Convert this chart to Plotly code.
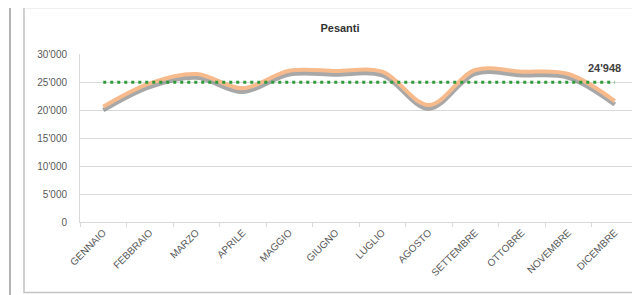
import plotly.graph_objects as go

# ---- data ----
months = ["GENNAIO", "FEBBRAIO", "MARZO", "APRILE", "MAGGIO", "GIUGNO",
          "LUGLIO", "AGOSTO", "SETTEMBRE", "OTTOBRE", "NOVEMBRE", "DICEMBRE"]
pesanti = [20600, 24770, 26430, 23870, 27020, 26960,
           26840, 20890, 27140, 26840, 26430, 21600]
media = 24948
title_text = "Pesanti"
y_ticks = [0, 5000, 10000, 15000, 20000, 25000, 30000]

# ---- geometry (pixels) ----
OFF = 8                      # default page body margin
W, H = 640 - OFF, 295 - OFF
ML, MR, MT, MB = 80 - OFF, 0, 54 - OFF, 73
PW = W - ML - MR
PH = H - MT - MB
YMAX = 30000
x_range = [-0.5, 11.543]
shadow_dy = 3.5 * YMAX / PH

def px_x(p):
    return (p - OFF - ML) / PW

def px_y(p):
    return (H - MB - (p - OFF)) / PH

FONT = "Liberation Sans, Arial, sans-serif"
TXT = "#595959"
GRID = "#d9d9d9"

fig = go.Figure()

# shadow (base axes, vertically offset range)
fig.add_trace(go.Scatter(
    x=months, y=pesanti, xaxis="x", yaxis="y", mode="lines",
    line=dict(color="rgba(110,110,110,0.6)", width=4.5, shape="spline"),
    hoverinfo="skip", showlegend=False))
# main series
fig.add_trace(go.Scatter(
    x=months, y=pesanti, xaxis="x", yaxis="y2", mode="lines",
    line=dict(color="#F7BA8C", width=4, shape="spline"),
    name=title_text, showlegend=False))
# average
fig.add_trace(go.Scatter(
    x=months, y=[media] * len(months), xaxis="x", yaxis="y2", mode="lines",
    line=dict(color="#2f9a3a", width=3, dash="3px,4px"),
    name="Media", showlegend=False))

fig.add_annotation(
    x=months[-1], y=media, xref="x", yref="y2",
    text="<b>" + f"{media:,}".replace(",", "'") + "</b>",
    showarrow=False, xanchor="center", yanchor="bottom",
    xshift=-10, yshift=6, font=dict(family=FONT, size=11, color="#404040"))

fig.update_layout(
    width=W, height=H,
    margin=dict(l=ML, r=MR, t=MT, b=MB),
    paper_bgcolor="white", plot_bgcolor="white",
    separators=".'",
    font=dict(family=FONT, size=10, color=TXT),
    title=dict(text="<b>" + title_text + "</b>", x=(340 - OFF) / W, xref="container",
               xanchor="center", y=1 - (28 - OFF) / H, yref="container",
               yanchor="middle",
               font=dict(family=FONT, size=11, color="#333333")),
    xaxis=dict(type="category", categoryorder="array", categoryarray=months,
               range=x_range, domain=[0, 1],
               showgrid=False, showline=True, linecolor=GRID, linewidth=1,
               ticks="outside", tickson="boundaries", ticklen=4, tickcolor=GRID,
               tickangle=-45, tickfont=dict(family=FONT, size=10, color=TXT),
               zeroline=False, fixedrange=True),
    yaxis=dict(range=[shadow_dy, YMAX + shadow_dy], visible=False,
               showgrid=False, zeroline=False, fixedrange=True),
    yaxis2=dict(range=[0, YMAX], overlaying="y", side="left",
                tickvals=y_ticks, tickformat=",", showgrid=True,
                gridcolor=GRID, gridwidth=1, showline=True, linecolor=GRID,
                ticks="", ticklabelstandoff=10, zeroline=False,
                tickfont=dict(family=FONT, size=10, color=TXT), fixedrange=True),
    shapes=[
        dict(type="line", xref="paper", yref="paper",
             x0=px_x(10), x1=px_x(10), y0=px_y(OFF), y1=px_y(H + OFF),
             line=dict(color="#9a9a9a", width=1.5)),
        dict(type="rect", xref="paper", yref="paper",
             x0=px_x(24), x1=px_x(650), y0=px_y(292.5), y1=px_y(7.5),
             line=dict(color="#c4c4c4", width=1.5)),
    ],
)

fig.write_html("out.html")
